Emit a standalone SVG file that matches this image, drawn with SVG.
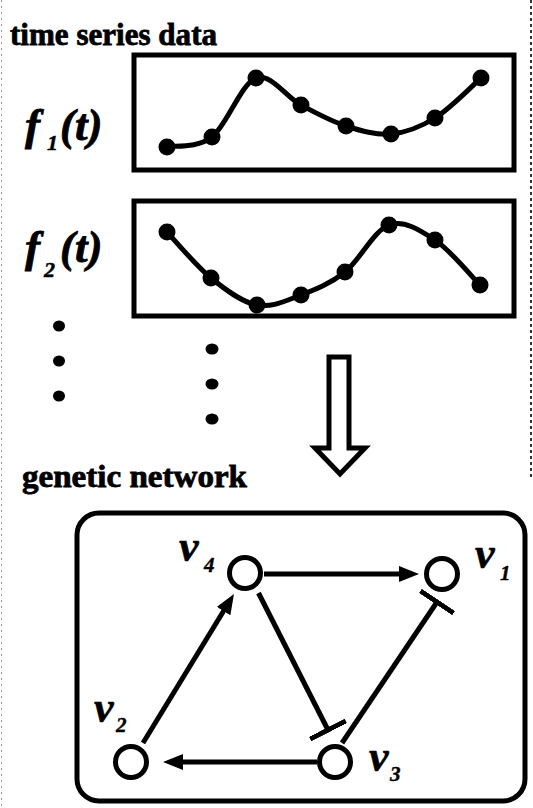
<svg xmlns="http://www.w3.org/2000/svg" width="533" height="808" viewBox="0 0 533 808">
<style>
.box{fill:none;stroke:#000;stroke-width:5}
.curve{fill:none;stroke:#000;stroke-width:5;stroke-linejoin:round;stroke-linecap:round}
.dot{fill:#000}
.title{font-family:"Liberation Serif",serif;font-weight:bold;font-size:32px;fill:#000;stroke:#000;stroke-width:0.8}
.fn{font-family:"Liberation Serif",serif;font-style:italic;font-weight:bold;font-size:45px;fill:#000;stroke:#000;stroke-width:0.8}
.fsub{font-family:"Liberation Serif",serif;font-style:italic;font-weight:bold;font-size:22px;fill:#000;stroke:#000;stroke-width:0.5}
.ncirc{fill:#fff;stroke:#000;stroke-width:5}
.lbl{font-family:"Liberation Serif",serif;font-style:italic;font-weight:bold;font-size:44px;fill:#000;stroke:#000;stroke-width:0.6}
.lsub{font-family:"Liberation Serif",serif;font-style:italic;font-weight:bold;font-size:21px;fill:#000;stroke:#000;stroke-width:0.4}
.edge{fill:none;stroke:#000;stroke-width:5}
.act{marker-end:url(#arrow)}
.inh{marker-end:url(#tbar)}
</style>
<defs>
<marker id="arrow" markerUnits="userSpaceOnUse" viewBox="0 0 20 16" markerWidth="20" markerHeight="16" refX="13" refY="8" orient="auto">
<path d="M0,0 L20,8 L0,16 Z" fill="#000"/>
</marker>
<marker id="tbar" markerUnits="userSpaceOnUse" viewBox="0 0 5 40" markerWidth="5" markerHeight="40" refX="2.5" refY="20" orient="auto">
<rect x="0" y="0" width="5" height="40" fill="#000"/>
</marker>
</defs>
<rect width="533" height="808" fill="#fff"/>
<g id="frame">
<line x1="1.5" y1="0" x2="1.5" y2="808" stroke="#999" stroke-width="1" stroke-dasharray="2 4"/>
<line x1="531" y1="0" x2="531" y2="480" stroke="#333" stroke-width="2" stroke-dasharray="3 3"/>
</g>
<g id="title-time-series">
<text class="title" x="10" y="45" textLength="207" lengthAdjust="spacingAndGlyphs">time series data</text>
</g>
<g id="series-f1">
<text class="fn" x="25" y="140">f</text>
<text class="fsub" x="47" y="150">1</text>
<text class="fn" x="60" y="140">(t)</text>
<rect class="box" x="134" y="55" width="380" height="115"/>
<path class="curve" d="M167,147 C174.5,145.3 197.2,148.5 212,137 C226.8,125.5 241.2,83.3 256,78 C270.8,72.7 286,97 301,105 C316,113 331,121.2 346,126 C361,130.8 376.2,135.3 391,134 C405.8,132.7 420,127.3 435,118 C450,108.7 473.3,84.7 481,78"/>
<circle class="dot" cx="167" cy="147" r="8.5"/>
<circle class="dot" cx="212" cy="137" r="8.5"/>
<circle class="dot" cx="256" cy="78" r="8.5"/>
<circle class="dot" cx="301" cy="105" r="8.5"/>
<circle class="dot" cx="346" cy="126" r="8.5"/>
<circle class="dot" cx="391" cy="134" r="8.5"/>
<circle class="dot" cx="435" cy="118" r="8.5"/>
<circle class="dot" cx="481" cy="78" r="8.5"/>
</g>
<g id="series-f2">
<text class="fn" x="25" y="262">f</text>
<text class="fsub" x="44" y="277">2</text>
<text class="fn" x="60" y="262">(t)</text>
<rect class="box" x="134" y="201" width="380" height="115"/>
<path class="curve" d="M167,232 C174.3,239.7 196,265.8 211,278 C226,290.2 242,302.2 257,305 C272,307.8 286.3,300.5 301,295 C315.7,289.5 330.3,283.7 345,272 C359.7,260.3 374,230.3 389,225 C404,219.7 419.8,230 435,240 C450.2,250 472.5,277.5 480,285"/>
<circle class="dot" cx="167" cy="232" r="8.5"/>
<circle class="dot" cx="211" cy="278" r="8.5"/>
<circle class="dot" cx="257" cy="305" r="8.5"/>
<circle class="dot" cx="301" cy="295" r="8.5"/>
<circle class="dot" cx="345" cy="272" r="8.5"/>
<circle class="dot" cx="389" cy="225" r="8.5"/>
<circle class="dot" cx="435" cy="240" r="8.5"/>
<circle class="dot" cx="480" cy="285" r="8.5"/>
</g>
<g id="ellipsis">
<ellipse class="dot" cx="59" cy="326" rx="6" ry="5.5"/>
<ellipse class="dot" cx="59" cy="361" rx="6" ry="5.5"/>
<ellipse class="dot" cx="59" cy="396" rx="6" ry="5.5"/>
<ellipse class="dot" cx="212" cy="349" rx="6.5" ry="5.5"/>
<ellipse class="dot" cx="212" cy="384" rx="6.5" ry="5.5"/>
<ellipse class="dot" cx="212" cy="419" rx="6.5" ry="5.5"/>
</g>
<g id="down-arrow">
<path d="M329,357 L349,357 L349,448 L365,448 L340,474 L315,448 L329,448 Z" fill="#fff" stroke="#000" stroke-width="5"/>
</g>
<g id="title-genetic-network">
<text class="title" x="22" y="487" textLength="225" lengthAdjust="spacingAndGlyphs">genetic network</text>
</g>
<g id="network-box">
<rect class="box" x="77" y="513" width="448" height="288" rx="22"/>
</g>
<g id="connectors">
<line class="edge act" x1="264" y1="574" x2="412" y2="574"/>
<line class="edge act" x1="143" y1="743" x2="230.3" y2="600"/>
<line class="edge inh" x1="258.5" y1="593" x2="328" y2="730"/>
<line class="edge inh" x1="342" y1="743" x2="437" y2="602"/>
<line class="edge act" x1="317" y1="762" x2="170" y2="762"/>
</g>
<g id="node-v4">
<circle class="ncirc" cx="245" cy="573" r="15.5"/>
<text class="lbl" x="179" y="561">v</text>
<text class="lsub" x="204" y="572">4</text>
</g>
<g id="node-v1">
<circle class="ncirc" cx="442" cy="574" r="15.5"/>
<text class="lbl" x="475" y="568">v</text>
<text class="lsub" x="500" y="580">1</text>
</g>
<g id="node-v2">
<circle class="ncirc" cx="131" cy="762" r="15.5"/>
<text class="lbl" x="94" y="722">v</text>
<text class="lsub" x="116" y="732">2</text>
</g>
<g id="node-v3">
<circle class="ncirc" cx="335" cy="762" r="15.5"/>
<text class="lbl" x="369" y="771">v</text>
<text class="lsub" x="390" y="781">3</text>
</g>
</svg>
